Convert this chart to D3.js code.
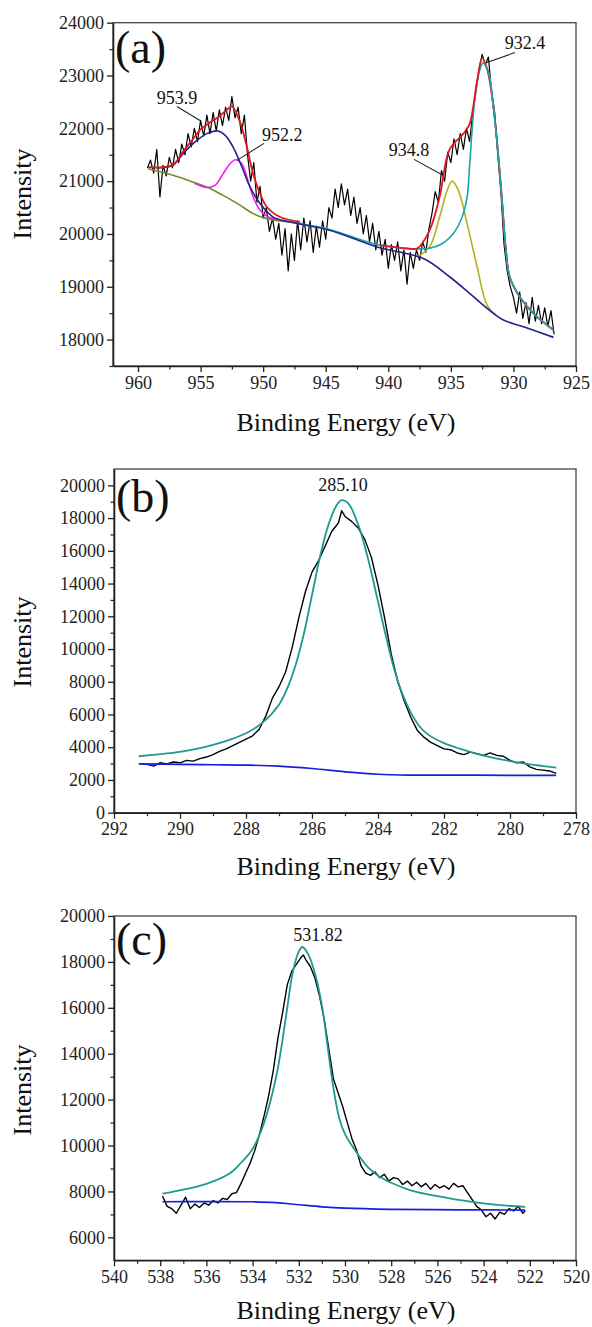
<!DOCTYPE html>
<html><head><meta charset="utf-8">
<script src="https://cdn.jsdelivr.net/npm/d3@7"></script>
<style>
html,body{margin:0;padding:0;background:#fff;}
svg{display:block;}
</style></head>
<body>
<svg id="chart" width="592" height="1327"></svg>
<script>
// ---------------- Panel (a): Cu 2p ----------------
const aEnergy = [959.25,959.0,958.75,958.5,958.25,958.0,957.75,957.5,957.25,957.0,956.75,956.5,956.25,956.0,955.75,955.5,955.25,955.0,954.75,954.5,954.25,954.0,953.75,953.5,953.25,953.0,952.75,952.5,952.25,952.0,951.75,951.5,951.25,951.0,950.75,950.5,950.25,950.0,949.75,949.5,949.25,949.0,948.75,948.5,948.25,948.0,947.75,947.5,947.25,947.0,946.75,946.5,946.25,946.0,945.75,945.5,945.25,945.0,944.75,944.5,944.25,944.0,943.75,943.5,943.25,943.0,942.75,942.5,942.25,942.0,941.75,941.5,941.25,941.0,940.75,940.5,940.25,940.0,939.75,939.5,939.25,939.0,938.75,938.5,938.25,938.0,937.75,937.5,937.25,937.0,936.75,936.5,936.25,936.0,935.75,935.5,935.25,935.0,934.75,934.5,934.25,934.0,933.75,933.5,933.25,933.0,932.75,932.5,932.25,932.0,931.75,931.5,931.25,931.0,930.75,930.5,930.25,930.0,929.75,929.5,929.25,929.0,928.75,928.5,928.25,928.0,927.75,927.5,927.25,927.0,926.75];
const aIntensity = [21250,21400,21150,21600,20700,21300,21100,21450,21250,21600,21350,21700,21500,21900,21650,22000,21750,22150,21850,22250,21900,22300,21950,22350,22050,22400,22150,22600,22200,22400,21900,22250,21500,21000,21350,20600,20900,20300,20500,20050,20300,19900,20200,19600,20100,19300,20000,19500,20250,19700,20300,19850,20250,19650,20150,19750,20250,19900,20500,20300,20850,20500,20950,20550,20850,20350,20700,20200,20500,20000,20350,19850,20200,19700,20050,19600,19900,19350,19800,19500,19850,19300,19700,19050,19650,19350,19700,19500,19850,19650,20100,20400,20800,20600,21200,21000,21550,21350,21800,21500,21900,21600,22000,21750,22300,22700,23100,23400,23200,23350,22700,22300,21500,20800,19800,19300,19000,18800,18500,18900,18400,18700,18300,18800,18350,18650,18300,18600,18250,18550,18100];
const aBackground = [[959.2,21235],[957.2,21110],[955.8,21000],[954.5,20890],[953.2,20730],[951.85,20545],[950.8,20385],[949.7,20290],[948.1,20230],[946.4,20165]];
const aPeak9539 = [[959.2,21267],[958.2,21255],[957.2,21300],[956.4,21520],[955.3,21770],[954.5,21900],[953.6,21950],[953.05,21870],[952.4,21645],[951.7,21267],[951.05,20890],[950.25,20575],[949.2,20320],[947.9,20230],[944.7,20070],[940.9,19755],[937.2,19535],[935.1,19190],[933.5,18875],[932.1,18590],[930.8,18370],[929.2,18243],[926.8,18042]];
const aPeak9522 = [[955.5,20960],[954.5,20880],[953.85,20920],[953.2,21140],[952.65,21330],[952.2,21405],[951.7,21330],[951.3,21080],[950.8,20700],[950.25,20450],[949.7,20335],[948.8,20265]];
const aPeak9348 = [[937.7,19565],[936.7,19755],[935.9,20320],[935.3,20825],[934.9,21000],[934.4,20825],[933.7,20195],[932.9,19375],[932.1,18650],[931.4,18470]];
const aPeak9324 = [[947.9,20230],[944.7,20085],[942.5,19915],[940.7,19790],[938.5,19725],[936.9,19725],[935.9,19790],[934.8,20010],[934.1,20320],[933.7,20700],[933.5,21300],[933.1,22525],[932.7,23095],[932.4,23250],[932.0,23060],[931.6,22400],[931.2,21455],[930.9,20600],[930.6,19700],[930.3,19190],[929.5,18810],[928.4,18495],[926.8,18180]];
const aEnvelope = [[959.2,21267],[958.2,21260],[957.2,21310],[956.4,21560],[955.6,21800],[955.0,21980],[954.3,22100],[953.5,22230],[952.9,22350],[952.5,22415],[951.85,22120],[951.3,21645],[950.8,21140],[950.25,20765],[949.7,20510],[948.65,20320],[947.05,20230],[944.7,20085],[942.5,19915],[940.7,19790],[938.5,19725],[937.7,19725],[936.7,20070],[935.9,20700],[935.1,21600],[934.0,21900],[933.5,22085],[932.9,22905],[932.5,23335],[932.1,23120],[931.6,22420],[931.2,21455],[930.9,20600],[930.6,19700],[930.3,19190],[929.5,18810],[928.4,18495],[926.8,18180]];
const aXTicks = [960,955,950,945,940,935,930,925];
const aYTicks = [18000,19000,20000,21000,22000,23000,24000];

// ---------------- Panel (b): C 1s ----------------
const bEnergy = [291.2,291.0,290.8,290.6,290.4,290.2,290.0,289.8,289.6,289.4,289.2,289.0,288.8,288.6,288.4,288.2,288.0,287.8,287.6,287.4,287.2,287.0,286.8,286.6,286.4,286.2,286.0,285.8,285.6,285.4,285.2,285.1,285.0,284.8,284.6,284.4,284.2,284.0,283.8,283.6,283.4,283.2,283.0,282.8,282.6,282.4,282.2,282.0,281.8,281.6,281.4,281.2,281.0,280.8,280.6,280.4,280.2,280.0,279.8,279.6,279.4,279.2,279.0,278.8,278.6];
const bIntensity = [3000,2950,2850,3050,2980,3100,3050,3200,3150,3300,3400,3550,3750,3900,4100,4300,4500,4700,5100,5900,7000,7700,8600,10100,11900,13500,14700,15400,16300,17200,17700,18450,18100,17800,17400,16700,15600,13900,11900,9700,8000,6800,5800,5000,4600,4300,4100,3900,3850,3650,3550,3700,3600,3500,3650,3500,3450,3200,3050,3100,2800,2650,2600,2550,2400];
const bFit = [[291.25,3450],[290.5,3600],[290.0,3720],[289.5,3900],[289.0,4150],[288.5,4450],[288.0,4850],[287.5,5500],[287.0,6600],[286.75,7600],[286.5,9000],[286.25,10900],[286.0,13300],[285.75,15700],[285.5,17600],[285.25,18800],[285.1,19100],[284.9,18900],[284.6,17600],[284.3,15500],[284.0,12900],[283.75,10700],[283.5,8700],[283.25,7200],[283.0,6100],[282.75,5300],[282.5,4800],[282.0,4250],[281.5,3900],[281.0,3600],[280.5,3350],[280.0,3150],[279.5,2980],[279.0,2850],[278.6,2750]];
const bBackground = [[291.25,2980],[290,2950],[289,2930],[288,2910],[287,2850],[286,2700],[285,2500],[284,2350],[283,2300],[281,2290],[278.6,2280]];
const bXTicks = [292,290,288,286,284,282,280,278];
const bYTicks = [0,2000,4000,6000,8000,10000,12000,14000,16000,18000,20000];

// ---------------- Panel (c): O 1s ----------------
const cEnergy = [537.9,537.7,537.5,537.3,537.1,536.9,536.7,536.5,536.3,536.1,535.9,535.7,535.5,535.3,535.1,534.9,534.7,534.5,534.3,534.1,533.9,533.7,533.5,533.3,533.1,532.9,532.7,532.5,532.3,532.1,531.9,531.8,531.7,531.5,531.3,531.1,530.9,530.7,530.5,530.3,530.1,529.9,529.7,529.5,529.3,529.1,528.9,528.7,528.5,528.3,528.1,527.9,527.7,527.5,527.3,527.1,526.9,526.7,526.5,526.3,526.1,525.9,525.7,525.5,525.3,525.1,524.9,524.7,524.5,524.3,524.1,523.9,523.7,523.5,523.3,523.1,522.9,522.7,522.5,522.3,522.2];
const cIntensity = [7800,7350,7250,7050,7400,7750,7250,7450,7300,7500,7400,7600,7500,7700,7650,7900,7950,8350,8800,9250,9800,10500,11300,12200,13300,14700,15800,17000,17600,17900,18200,18300,18100,17800,17300,16500,15500,14200,12900,12300,11700,11000,10300,9800,9100,8800,8700,8850,8600,8750,8450,8600,8550,8300,8450,8250,8400,8200,8350,8100,8300,8150,8250,8100,8350,8200,8250,7950,7650,7350,7200,6900,7050,6800,7100,7000,7250,7150,7350,7050,7150];
const cFit = [[537.9,7900],[537.0,8080],[536.0,8330],[535.0,8780],[534.5,9250],[534.0,9850],[533.5,11000],[533.0,12900],[532.75,14300],[532.5,16000],[532.25,17600],[532.0,18450],[531.85,18650],[531.6,18350],[531.3,17500],[531.0,16100],[530.75,14300],[530.5,12500],[530.25,11200],[530.0,10500],[529.5,9700],[529.0,9050],[528.5,8640],[528.0,8380],[527.0,8000],[526.0,7800],[525.0,7620],[524.0,7480],[523.0,7380],[522.2,7330]];
const cBackground = [[537.9,7550],[536,7560],[534,7550],[533,7510],[532,7420],[531,7330],[530,7270],[528,7220],[525,7200],[522.2,7190]];
const cXTicks = [540,538,536,534,532,530,528,526,524,522,520];
const cYTicks = [6000,8000,10000,12000,14000,16000,18000,20000];

const xTitle = "Binding Energy (eV)";
const yTitle = "Intensity";
const FONT = "'Liberation Serif','Times New Roman',serif";

const svg = d3.select("#chart");
const zip = (xs, ys) => xs.map((e, i) => [e, ys[i]]);

function panel(cfg) {
  const x = d3.scaleLinear().domain(cfg.xDomain).range([cfg.left, cfg.right]);
  const y = d3.scaleLinear().domain(cfg.yDomain).range([cfg.bottom, cfg.top]);
  const g = svg.append("g").attr("font-family", FONT);

  g.append("rect").attr("x", cfg.left).attr("y", cfg.top)
    .attr("width", cfg.right - cfg.left).attr("height", cfg.bottom - cfg.top)
    .attr("fill", "none").attr("stroke", "#444").attr("stroke-width", 1.3);

  const lineSmooth = d3.line().x(d => x(d[0])).y(d => y(d[1])).curve(d3.curveCatmullRom.alpha(0.5));
  const lineRaw = d3.line().x(d => x(d[0])).y(d => y(d[1]));

  cfg.curves.forEach(c => {
    g.append("path").attr("d", (c.raw ? lineRaw : lineSmooth)(c.data))
      .attr("fill", "none").attr("stroke", c.color).attr("stroke-width", c.width)
      .attr("stroke-linejoin", "round");
  });

  const xMinor = [];
  for (let i = 0; i < cfg.xTicks.length - 1; i++) xMinor.push((cfg.xTicks[i] + cfg.xTicks[i + 1]) / 2);
  const yMinor = [];
  for (let i = 0; i < cfg.yTicks.length - 1; i++) yMinor.push((cfg.yTicks[i] + cfg.yTicks[i + 1]) / 2);
  if (cfg.yExtraMinor) yMinor.push(...cfg.yExtraMinor);

  const styleAxis = sel => {
    sel.attr("font-family", FONT);
    sel.select(".domain").attr("stroke", "#222").attr("stroke-width", 1.6);
    sel.selectAll(".tick line").attr("stroke", "#222").attr("stroke-width", 1.3);
    sel.selectAll(".tick text").attr("font-family", FONT).attr("font-size", 18).attr("fill", "#222");
  };

  g.append("g").attr("transform", `translate(0,${cfg.bottom})`)
    .call(d3.axisBottom(x).tickValues(xMinor).tickSize(3.5).tickFormat(""))
    .call(s => { s.select(".domain").remove(); s.selectAll(".tick line").attr("stroke", "#222").attr("stroke-width", 1.2); });
  g.append("g").attr("transform", `translate(${cfg.left},0)`)
    .call(d3.axisLeft(y).tickValues(yMinor).tickSize(3.5).tickFormat(""))
    .call(s => { s.select(".domain").remove(); s.selectAll(".tick line").attr("stroke", "#222").attr("stroke-width", 1.2); });

  g.append("g").attr("transform", `translate(0,${cfg.bottom})`)
    .call(d3.axisBottom(x).tickValues(cfg.xTicks).tickSize(6).tickSizeOuter(0).tickPadding(4).tickFormat(d3.format("d")))
    .call(styleAxis);
  g.append("g").attr("transform", `translate(${cfg.left},0)`)
    .call(d3.axisLeft(y).tickValues(cfg.yTicks).tickSize(6).tickSizeOuter(0).tickPadding(3).tickFormat(d3.format("d")))
    .call(styleAxis);

  g.append("text").attr("x", 346).attr("y", cfg.xTitleY).attr("text-anchor", "middle")
    .attr("font-size", 26).attr("fill", "#111").text(xTitle);
  g.append("text").attr("transform", `translate(31,${cfg.yTitleCenter}) rotate(-90)`).attr("text-anchor", "middle")
    .attr("font-size", 26).attr("fill", "#111").text(yTitle);

  g.append("text").attr("x", cfg.left + 2).attr("y", cfg.letterY).attr("font-size", 46).attr("fill", "#111").text(cfg.letter);

  cfg.notes.forEach(n => {
    if (n.line) {
      g.append("line").attr("x1", x(n.line[0])).attr("y1", y(n.line[1]))
        .attr("x2", x(n.line[2])).attr("y2", y(n.line[3])).attr("stroke", "#222").attr("stroke-width", 1.1);
    }
    g.append("text").attr("x", x(n.at[0])).attr("y", y(n.at[1])).attr("text-anchor", n.anchor)
      .attr("font-size", 18).attr("fill", "#111").text(n.label);
  });
}

panel({
  left: 113, right: 576, top: 22.7, bottom: 366,
  xDomain: [962, 925], yDomain: [17500, 24000],
  xTicks: aXTicks, yTicks: aYTicks, yExtraMinor: [17500],
  yTitleCenter: 194, xTitleY: 431, letter: "(a)", letterY: 63,
  curves: [
    { data: zip(aEnergy, aIntensity), color: "#000", width: 1.2, raw: true },
    { data: aBackground, color: "#6f8f2a", width: 1.6 },
    { data: aPeak9522, color: "#f020f0", width: 1.6 },
    { data: aPeak9348, color: "#b8b020", width: 1.6 },
    { data: aPeak9324, color: "#1ca6a8", width: 1.6 },
    { data: aPeak9539, color: "#23238c", width: 1.6 },
    { data: aEnvelope.slice(0, 17), color: "#e4161e", width: 1.8 },
    { data: aEnvelope.slice(19), color: "#e4161e", width: 1.8 },
    { data: aPeak9324.slice(13), color: "#1ca6a8", width: 1.6 }
  ],
  notes: [
    { label: "953.9", at: [956.89, 22452], anchor: "middle", line: [956.89, 22414, 955.05, 22149] },
    { label: "952.2", at: [950.09, 21752], anchor: "start", line: [949.93, 21715, 952.09, 21393] },
    { label: "934.8", at: [938.35, 21469], anchor: "middle", line: [937.95, 21412, 935.63, 21110] },
    { label: "932.4", at: [929.08, 23510], anchor: "middle", line: [929.88, 23435, 932.11, 23246] }
  ]
});

panel({
  left: 114, right: 576, top: 469, bottom: 812.7,
  xDomain: [292, 278], yDomain: [0, 21000],
  xTicks: bXTicks, yTicks: bYTicks,
  yTitleCenter: 642, xTitleY: 875, letter: "(b)", letterY: 512,
  curves: [
    { data: zip(bEnergy, bIntensity), color: "#000", width: 1.4, raw: true },
    { data: bBackground, color: "#1c1ce0", width: 1.7 },
    { data: bFit, color: "#22998f", width: 1.8 }
  ],
  notes: [ { label: "285.10", at: [285.06, 19640], anchor: "middle" } ]
});

panel({
  left: 114, right: 576, top: 916, bottom: 1260.3,
  xDomain: [540, 520], yDomain: [5000, 20000],
  xTicks: cXTicks, yTicks: cYTicks, yExtraMinor: [],
  yTitleCenter: 1090, xTitleY: 1319, letter: "(c)", letterY: 955,
  curves: [
    { data: zip(cEnergy, cIntensity), color: "#000", width: 1.4, raw: true },
    { data: cBackground, color: "#1c1ce0", width: 1.7 },
    { data: cFit, color: "#22998f", width: 1.8 }
  ],
  notes: [ { label: "531.82", at: [531.17, 18910], anchor: "middle" } ]
});
</script>
</body></html>
